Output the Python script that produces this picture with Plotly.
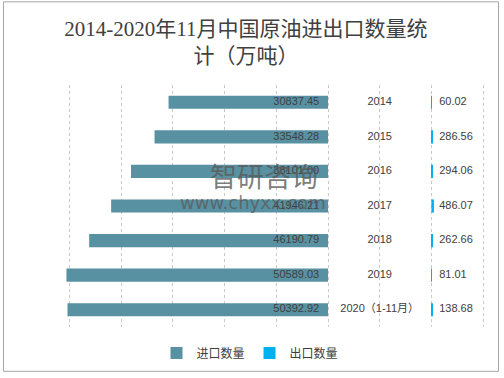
import plotly.graph_objects as go

years = ["2014", "2015", "2016", "2017", "2018", "2019", "2020（1-11月）"]
imports = [30837.45, 33548.28, 38101.00, 41946.21, 46190.79, 50589.03, 50392.92]
exports = [60.02, 286.56, 294.06, 486.07, 262.66, 81.01, 138.68]

EXPORT_BASE = 20000   # gap for the centre category column
MID = 10000
IMP_LABEL_PAD = 1700
EXP_LABEL_PAD = 1500

IMP_COLOR = "#5891A2"
EXP_COLOR = "#00B0F0"
TXT = "#404040"
NUMFONT = "Liberation Sans, Noto Sans CJK SC"

L, R, T, B = 62, 18, 85, 50
W, H = 504, 378
pw = W - L - R
ph = H - T - B

fig = go.Figure()
fig.add_trace(go.Bar(
    y=years, x=[-v for v in imports], orientation="h", name="进口数量",
    marker=dict(color=IMP_COLOR, line=dict(width=0)), hoverinfo="skip"))
fig.add_trace(go.Bar(
    y=years, x=exports, base=EXPORT_BASE, orientation="h", name="出口数量",
    marker=dict(color=EXP_COLOR, line=dict(width=0)), hoverinfo="skip"))

# import value labels near the zero line
fig.add_trace(go.Scatter(
    y=years, x=[-IMP_LABEL_PAD] * len(years), mode="text",
    text=[f"{v:.2f}" for v in imports], textposition="middle left",
    textfont=dict(family=NUMFONT, size=11, color=TXT), showlegend=False,
    cliponaxis=False, hoverinfo="skip"))
# category labels in centre column
fig.add_trace(go.Scatter(
    y=years, x=[MID] * len(years), mode="text", text=years,
    textposition="middle center",
    textfont=dict(family=NUMFONT, size=11, color=TXT), showlegend=False,
    cliponaxis=False, hoverinfo="skip"))
# export value labels
fig.add_trace(go.Scatter(
    y=years, x=[EXPORT_BASE + EXP_LABEL_PAD] * len(years), mode="text",
    text=[f"{v:.2f}" for v in exports], textposition="middle right",
    textfont=dict(family=NUMFONT, size=11, color=TXT), showlegend=False,
    cliponaxis=False, hoverinfo="skip"))

def px_x(p):
    return (p - L) / pw

def px_y(p):
    return 1 - (p - T) / ph

fig.update_layout(
    width=W, height=H,
    margin=dict(l=L, r=R, t=T, b=B),
    paper_bgcolor="white", plot_bgcolor="white",
    barmode="overlay", bargap=0.62,
    title=dict(text="2014-2020年11月中国原油进出口数量统<br>计（万吨）",
               x=0.488, xanchor="center", y=1 - 36 / H, yanchor="middle",
               font=dict(family="Liberation Serif, Noto Sans CJK SC", size=21, color=TXT)),
    xaxis=dict(range=[-51450, 30560], tick0=0, dtick=10000, showticklabels=False,
               showgrid=True, gridcolor="#C8C8C8", griddash="dot", gridwidth=1,
               zeroline=False, showline=False, ticks=""),
    yaxis=dict(autorange="reversed", showticklabels=False, showgrid=False,
               zeroline=False, showline=False, ticks=""),
    legend=dict(orientation="h", x=px_x(250), xanchor="center", y=px_y(353),
                yanchor="middle", font=dict(family="Noto Sans CJK SC", size=12, color=TXT),
                itemwidth=30, bgcolor="rgba(0,0,0,0)"),
    showlegend=True,
    shapes=[dict(type="rect", xref="paper", yref="paper",
                 x0=px_x(3.5), x1=px_x(498.5), y0=px_y(372.5), y1=px_y(1.5),
                 line=dict(color="#A6A6A6", width=1), layer="below")],
    annotations=[
        dict(text="智研咨询", xref="paper", yref="paper", x=px_x(264), y=px_y(176),
             showarrow=False, font=dict(family="Noto Sans CJK SC", size=27, color="rgba(90,90,90,0.8)")),
        dict(text="www.chyxx.com", xref="paper", yref="paper", x=px_x(253), y=px_y(203),
             showarrow=False, font=dict(family="DejaVu Sans", size=18, color="rgba(90,90,90,0.75)")),
    ],
)

fig.write_html("out.html", post_script="document.body.style.margin='0';",
               config={"displayModeBar": False})
